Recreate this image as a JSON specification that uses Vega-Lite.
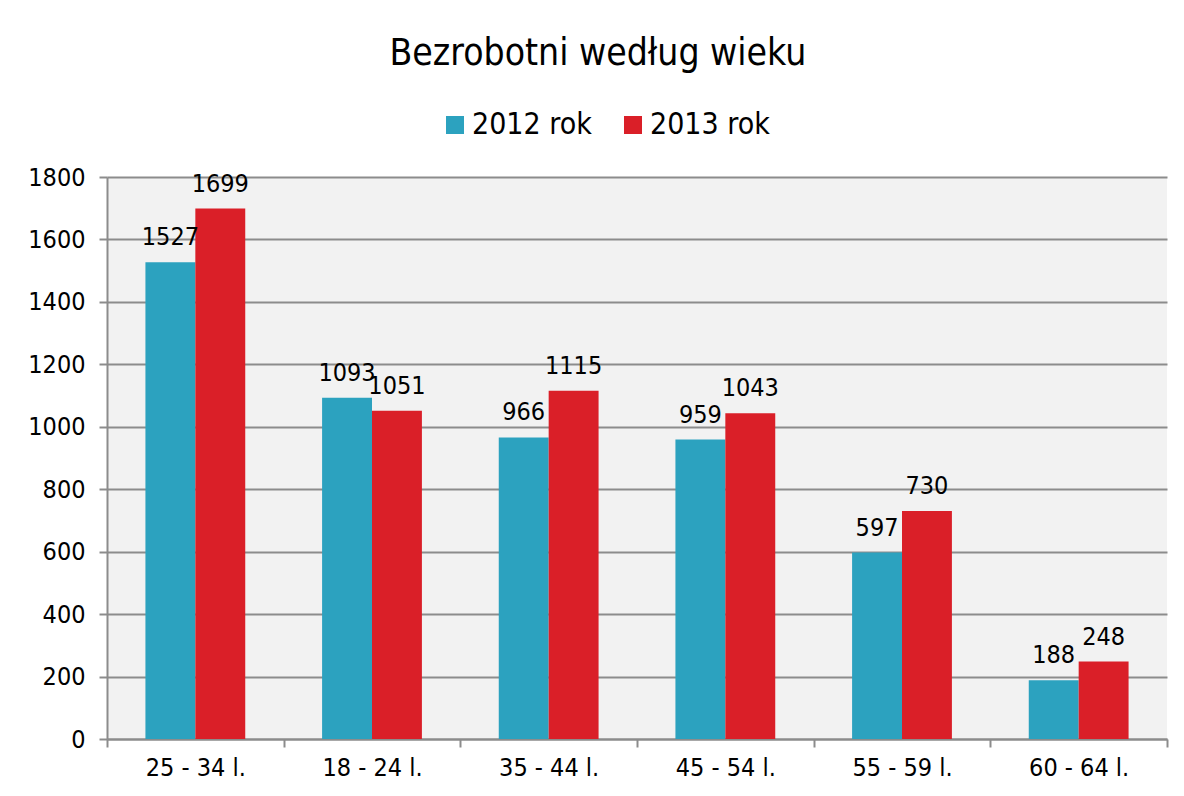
{
  "$schema": "https://vega.github.io/schema/vega-lite/v6.json",
  "width": 1184,
  "height": 796,
  "autosize": {"type": "fit", "contains": "padding"},
  "padding": {"left": 27, "right": 16, "top": 35, "bottom": 16},
  "background": "white",
  "title": {
    "text": "Bezrobotni według wieku",
    "fontSize": 37,
    "font": "DejaVu Sans Condensed",
    "fontWeight": "normal",
    "color": "black",
    "anchor": "middle",
    "frame": "bounds",
    "offset": 92
  },
  "data": {
    "values": [
      {"wiek": "25 - 34 l.", "rok": "2012 rok", "wartosc": 1527},
      {"wiek": "25 - 34 l.", "rok": "2013 rok", "wartosc": 1699},
      {"wiek": "18 - 24 l.", "rok": "2012 rok", "wartosc": 1093},
      {"wiek": "18 - 24 l.", "rok": "2013 rok", "wartosc": 1051},
      {"wiek": "35 - 44 l.", "rok": "2012 rok", "wartosc": 966},
      {"wiek": "35 - 44 l.", "rok": "2013 rok", "wartosc": 1115},
      {"wiek": "45 - 54 l.", "rok": "2012 rok", "wartosc": 959},
      {"wiek": "45 - 54 l.", "rok": "2013 rok", "wartosc": 1043},
      {"wiek": "55 - 59 l.", "rok": "2012 rok", "wartosc": 597},
      {"wiek": "55 - 59 l.", "rok": "2013 rok", "wartosc": 730},
      {"wiek": "60 - 64 l.", "rok": "2012 rok", "wartosc": 188},
      {"wiek": "60 - 64 l.", "rok": "2013 rok", "wartosc": 248}
    ]
  },
  "encoding": {
    "x": {
      "field": "wiek",
      "type": "nominal",
      "sort": null,
      "scale": {"paddingInner": 0, "paddingOuter": 0},
      "axis": {
        "title": null,
        "labelAngle": 0,
        "labelFontSize": 25,
        "labelFont": "DejaVu Sans Condensed",
        "labelColor": "black",
        "labelPadding": 8,
        "tickBand": "extent",
        "tickSize": 8,
        "tickColor": "#8c8c8c",
        "tickWidth": 2,
        "domainColor": "#8c8c8c",
        "domainWidth": 2,
        "grid": false
      }
    },
    "xOffset": {
      "field": "rok",
      "type": "nominal",
      "scale": {"paddingInner": 0, "paddingOuter": 0.77}
    },
    "y": {
      "field": "wartosc",
      "type": "quantitative",
      "scale": {"domain": [0, 1800]},
      "axis": {
        "title": null,
        "format": "d",
        "values": [0, 200, 400, 600, 800, 1000, 1200, 1400, 1600, 1800],
        "labelFontSize": 25,
        "labelFont": "DejaVu Sans Condensed",
        "labelColor": "black",
        "labelPadding": 14,
        "tickSize": 8,
        "tickColor": "#8c8c8c",
        "tickWidth": 2,
        "domainColor": "#8c8c8c",
        "domainWidth": 2,
        "gridColor": "#8c8c8c",
        "gridWidth": 2
      }
    }
  },
  "layer": [
    {
      "mark": {"type": "bar"},
      "encoding": {
        "color": {
          "field": "rok",
          "type": "nominal",
          "scale": {"domain": ["2012 rok", "2013 rok"], "range": ["#2CA2BF", "#DA1F28"]},
          "legend": {
            "title": null,
            "orient": "none",
            "direction": "horizontal",
            "legendX": 333,
            "legendY": -67,
            "symbolType": "square",
            "symbolSize": 324,
            "symbolStrokeWidth": 0,
            "labelFontSize": 30,
            "labelFont": "DejaVu Sans Condensed",
            "labelColor": "black",
            "labelOffset": 2,
            "columnPadding": 26
          }
        }
      }
    },
    {
      "mark": {
        "type": "text",
        "dy": -17,
        "baseline": "alphabetic",
        "fontSize": 25,
        "font": "DejaVu Sans Condensed",
        "color": "black"
      },
      "encoding": {"text": {"field": "wartosc", "type": "quantitative"}}
    }
  ],
  "config": {"view": {"fill": "#F2F2F2", "stroke": null}}
}
